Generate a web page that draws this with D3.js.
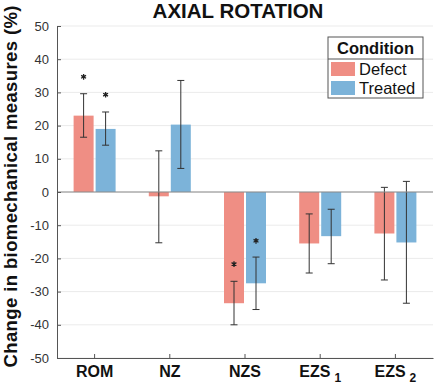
<!DOCTYPE html>
<html lang="en">
<head>
  <meta charset="UTF-8">
  <title>Axial Rotation</title>
  <script src="https://d3js.org/d3.v7.min.js"></script>
  <style>
    body { margin: 0; background: white; }
    text { font-family: "Liberation Sans", Arial, sans-serif; }
  </style>
</head>
<body>
  <svg width="436" height="387"></svg>

  <script>
    // data
    const categories = ["ROM", "NZ", "NZS", "EZS1", "EZS2"];
    const conditions = ["Defect", "Treated"];
    const defectMean = [23, -1.3, -33.5, -15.5, -12.5];
    const defectLow = [16.5, -15.3, -40, -24.4, -26.5];
    const defectHigh = [29.6, 12.4, -26.9, -6.6, 1.4];
    const treatedMean = [19, 20.3, -27.5, -13.3, -15.2];
    const treatedLow = [14.1, 7.1, -35.4, -21.6, -33.5];
    const treatedHigh = [24.1, 33.6, -19.6, -5.2, 3.2];
    // significance markers (null = none)
    const defectStar = [34.7, null, -21.7, null, null];
    const treatedStar = [29.3, null, -14.7, null, null];
    const yTicks = [-50, -40, -30, -20, -10, 0, 10, 20, 30, 40, 50];

    const colors = { Defect: "#ef8e84", Treated: "#7cb3d9" };

    const rows = categories.map((c, i) => ({
      cat: c,
      bars: [
        { cond: "Defect", v: defectMean[i], lo: defectLow[i], hi: defectHigh[i], star: defectStar[i] },
        { cond: "Treated", v: treatedMean[i], lo: treatedLow[i], hi: treatedHigh[i], star: treatedStar[i] }
      ]
    }));

    const plotL = 57, plotR = 433, plotT = 26, plotB = 358;
    const svg = d3.select("svg");

    const x = d3.scaleBand().domain(categories).range([plotL, plotR]);
    const y = d3.scaleLinear().domain([-50, 50]).range([plotB, plotT]);
    const barW = 20, gap = 2;
    const offset = d => d.cond === "Defect" ? -(barW + gap / 2) : gap / 2;

    // grid
    svg.append("g").selectAll("line").data(yTicks).enter().append("line")
      .attr("x1", plotL).attr("x2", plotR)
      .attr("y1", d => y(d)).attr("y2", d => y(d))
      .attr("stroke", "#ebebeb");

    // bars
    const groups = svg.selectAll("g.grp").data(rows).enter().append("g")
      .attr("class", "grp")
      .attr("transform", d => "translate(" + (x(d.cat) + x.bandwidth() / 2) + ",0)");

    groups.selectAll("rect").data(d => d.bars).enter().append("rect")
      .attr("x", d => offset(d))
      .attr("width", barW)
      .attr("y", d => y(Math.max(0, d.v)))
      .attr("height", d => Math.abs(y(d.v) - y(0)))
      .attr("fill", d => colors[d.cond]);

    // zero line
    svg.append("line")
      .attr("x1", plotL).attr("x2", plotR)
      .attr("y1", y(0)).attr("y2", y(0))
      .attr("stroke", "#8a8a8a").attr("stroke-width", 1);

    // error bars
    const eb = groups.selectAll("g.err").data(d => d.bars).enter().append("g")
      .attr("class", "err")
      .attr("transform", d => "translate(" + (offset(d) + barW / 2) + ",0)")
      .attr("stroke", "#333").attr("stroke-width", 1);
    eb.append("line").attr("y1", d => y(d.lo)).attr("y2", d => y(d.hi));
    eb.append("line").attr("x1", -3.5).attr("x2", 3.5).attr("y1", d => y(d.lo)).attr("y2", d => y(d.lo));
    eb.append("line").attr("x1", -3.5).attr("x2", 3.5).attr("y1", d => y(d.hi)).attr("y2", d => y(d.hi));

    // significance stars
    groups.selectAll("path.star").data(d => d.bars.filter(b => b.star !== null)).enter().append("path")
      .attr("class", "star")
      .attr("transform", d => "translate(" + (offset(d) + barW / 2) + "," + y(d.star) + ")")
      .attr("d", d3.symbol(d3.symbolAsterisk, 22))
      .attr("fill", "none")
      .attr("stroke", "#222")
      .attr("stroke-width", 1.3);
    groups.selectAll("circle.star").data(d => d.bars.filter(b => b.star !== null)).enter().append("circle")
      .attr("class", "star")
      .attr("cx", d => offset(d) + barW / 2)
      .attr("cy", d => y(d.star))
      .attr("r", 1.3)
      .attr("fill", "#222");

    // axes
    const yAxis = svg.append("g").attr("transform", "translate(" + plotL + ",0)")
      .call(d3.axisLeft(y).tickValues(yTicks).tickFormat(d => String(d))
        .tickSizeInner(-4).tickSizeOuter(0).tickPadding(8));
    yAxis.select(".domain").attr("stroke", "#555");
    yAxis.selectAll(".tick line").attr("stroke", "#555");
    yAxis.selectAll("text").attr("font-size", 13).attr("fill", "#333")
      .style("font-family", "'Liberation Sans', Arial, sans-serif");

    const xAxis = svg.append("g").attr("transform", "translate(0," + plotB + ")")
      .call(d3.axisBottom(x).tickSizeInner(-4).tickSizeOuter(0).tickFormat(""));
    xAxis.select(".domain").attr("stroke", "#555");
    xAxis.selectAll(".tick line").attr("stroke", "#555");

    // x labels with subscripts
    const xl = svg.append("g").selectAll("text").data(categories).enter().append("text")
      .attr("x", d => x(d) + x.bandwidth() / 2)
      .attr("y", 377)
      .attr("text-anchor", "middle")
      .attr("font-size", 16).attr("font-weight", "bold").attr("fill", "#111");
    xl.append("tspan").text(d => d.replace(/\d$/, ""));
    xl.filter(d => /\d$/.test(d)).append("tspan")
      .attr("dx", 4).attr("dy", 5).attr("font-size", 12)
      .text(d => d.slice(-1));

    // title
    svg.append("text").attr("x", 238).attr("y", 17.5)
      .attr("text-anchor", "middle").attr("font-size", 20.5).attr("font-weight", "bold")
      .attr("fill", "#111").text("AXIAL ROTATION");

    // y label
    svg.append("text")
      .attr("transform", "translate(16.5,186.5) rotate(-90)")
      .attr("text-anchor", "middle").attr("font-size", 18.5).attr("font-weight", "bold")
      .attr("textLength", 362).attr("lengthAdjust", "spacing")
      .attr("fill", "#111").text("Change in biomechanical measures (%)");

    // legend
    const lg = svg.append("g").attr("transform", "translate(328,37)");
    lg.append("rect").attr("width", 95).attr("height", 61)
      .attr("fill", "white").attr("stroke", "#555");
    lg.append("line").attr("x1", 0).attr("x2", 95).attr("y1", 22).attr("y2", 22).attr("stroke", "#555");
    lg.append("text").attr("x", 47.5).attr("y", 16.5).attr("text-anchor", "middle")
      .attr("font-size", 16.5).attr("font-weight", "bold").attr("fill", "#111").text("Condition");
    const li = lg.selectAll("g.item").data(conditions).enter().append("g")
      .attr("transform", (d, i) => "translate(3," + (25 + i * 19) + ")");
    li.append("rect").attr("width", 24).attr("height", 14).attr("fill", d => colors[d]);
    li.append("text").attr("x", 28).attr("y", 13).attr("font-size", 16.5).attr("fill", "#111").text(d => d);
  </script>
</body>
</html>
